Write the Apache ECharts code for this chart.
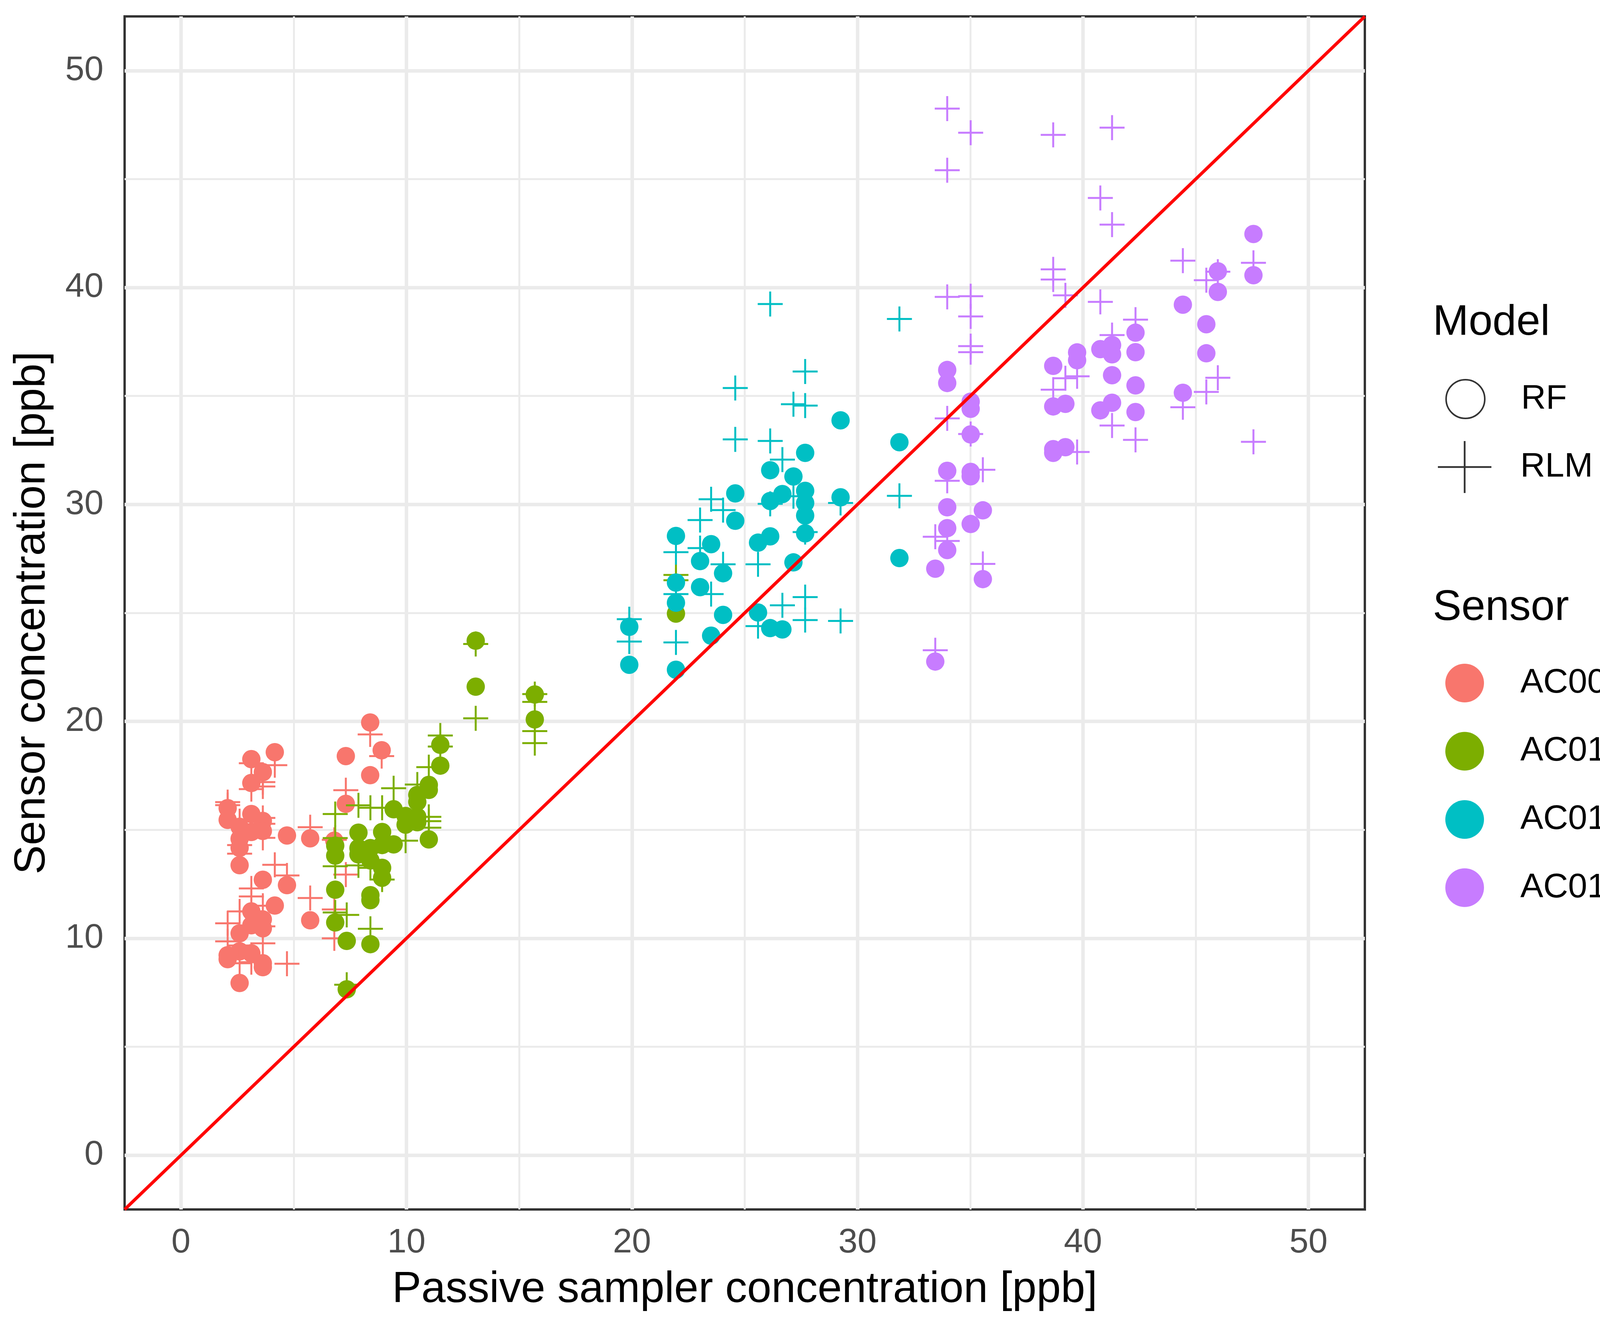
<!DOCTYPE html>
<html>
<head>
<meta charset="utf-8">
<script src="https://cdn.jsdelivr.net/npm/echarts@6/dist/echarts.min.js"></script>
<style>
html,body{margin:0;padding:0;background:#ffffff;}
#chart{width:4205px;height:3402px;}
</style>
</head>
<body>
<div id="chart"></div>
<script>
// ---------- data ----------
const sensors = ['AC009', 'AC010', 'AC011', 'AC012'];
const models = ['RF', 'RLM'];
const xTicks = [0, 10, 20, 30, 40, 50];
const yTicks = [0, 10, 20, 30, 40, 50];
const minorTicks = [5, 15, 25, 35, 45];
const axisMin = -2.5;
const axisMax = 52.5;

const ac009_RF = [[8.39,19.95],[8.9,18.67],[7.31,18.4],[8.39,17.52],[7.31,16.2],[4.16,18.58],[3.12,18.26],[3.63,17.66],[3.12,17.16],[2.07,16.0],[2.07,15.46],[3.12,15.73],[3.63,15.41],[2.6,15.14],[3.12,14.9],[3.63,14.95],[2.6,14.59],[2.6,14.17],[2.6,13.37],[4.7,14.74],[5.73,14.61],[6.8,14.5],[3.63,12.7],[4.7,12.45],[4.16,11.51],[3.12,11.24],[3.63,10.87],[3.12,10.6],[2.6,10.23],[3.63,10.46],[2.07,9.22],[2.6,9.4],[3.12,9.31],[3.63,8.85],[3.63,8.67],[2.07,9.04],[2.6,7.94],[5.73,10.83]];
const ac009_RLM = [[8.39,19.4],[8.9,18.4],[7.31,16.83],[5.73,15.12],[4.16,17.98],[3.12,18.07],[3.63,17.2],[3.63,17.0],[3.12,16.88],[2.07,16.28],[2.07,16.14],[3.63,15.55],[3.63,15.28],[3.63,14.63],[2.6,14.3],[2.6,13.9],[2.6,15.4],[4.16,13.39],[4.7,12.9],[6.8,14.54],[7.31,12.94],[6.8,11.33],[6.8,10.0],[5.73,11.86],[4.7,8.83],[3.12,12.3],[3.12,11.93],[3.63,11.5],[2.6,11.24],[3.12,11.24],[2.07,10.69],[3.63,10.55],[2.07,9.86],[2.6,9.67],[3.63,9.77],[3.12,8.9],[2.6,8.85]];
const ac010_RF = [[13.07,23.72],[13.07,21.6],[15.69,21.24],[15.69,20.09],[11.5,18.92],[11.5,17.96],[10.99,17.07],[10.99,16.84],[10.48,16.61],[10.48,16.29],[9.43,15.95],[9.96,15.64],[10.48,15.35],[9.96,15.24],[10.48,15.6],[10.99,14.56],[7.87,14.87],[8.92,14.9],[8.92,14.3],[9.43,14.33],[6.84,14.27],[6.84,13.81],[7.87,14.16],[7.87,13.87],[8.4,14.16],[8.4,13.59],[8.92,13.25],[8.92,12.79],[6.84,12.24],[8.4,11.99],[8.4,11.76],[6.84,10.73],[7.35,9.88],[8.4,9.73],[7.35,7.65],[21.95,24.97]];
const ac010_RLM = [[13.07,23.57],[13.07,20.14],[15.69,21.26],[15.69,20.9],[15.69,19.55],[15.69,19.0],[11.5,19.35],[11.5,18.84],[10.99,17.89],[10.48,17.09],[9.43,16.92],[7.87,16.13],[8.4,16.02],[8.92,16.02],[6.84,15.73],[10.99,15.6],[10.99,15.4],[10.99,15.1],[9.96,14.5],[6.84,14.62],[7.87,13.36],[8.4,13.25],[8.92,12.71],[6.84,13.32],[6.84,11.19],[7.35,11.08],[8.4,10.44],[7.35,7.86],[21.95,26.75],[21.95,26.51]];
const ac011_RF = [[29.25,33.88],[31.86,32.87],[27.68,32.38],[26.13,31.58],[27.16,31.29],[24.58,30.51],[26.67,30.48],[27.68,30.63],[26.13,30.16],[27.68,30.07],[29.25,30.33],[27.68,29.49],[24.58,29.25],[27.68,28.67],[21.95,28.55],[23.51,28.17],[26.13,28.53],[25.59,28.24],[23.02,27.39],[31.86,27.53],[27.16,27.33],[24.04,26.83],[21.95,26.4],[23.02,26.19],[21.95,25.47],[24.04,24.91],[25.59,25.02],[26.13,24.3],[26.67,24.24],[23.51,23.95],[19.88,24.36],[19.88,22.61],[21.95,22.38]];
const ac011_RLM = [[26.13,39.24],[31.86,38.55],[24.58,35.37],[27.68,36.13],[27.16,34.62],[27.68,34.56],[24.58,33.0],[26.13,32.93],[26.67,32.07],[23.51,30.24],[24.04,29.74],[23.02,29.28],[26.13,30.03],[27.16,30.38],[29.25,30.07],[31.86,30.4],[27.68,28.73],[21.95,27.8],[23.02,27.99],[24.04,27.24],[25.59,27.24],[23.51,25.87],[21.95,25.87],[26.67,25.35],[27.68,25.73],[27.68,24.67],[29.25,24.63],[25.59,24.39],[19.88,24.71],[19.88,23.68],[21.95,23.64]];
const ac012_RF = [[47.56,42.47],[47.56,40.57],[45.98,40.75],[45.98,39.8],[44.43,39.21],[45.47,38.31],[45.47,36.97],[42.33,37.92],[42.33,37.02],[41.29,37.35],[40.77,37.16],[41.29,36.92],[39.74,37.01],[39.74,36.65],[38.68,36.39],[41.29,35.96],[42.33,35.49],[44.43,35.15],[38.68,34.52],[39.22,34.64],[41.29,34.69],[40.77,34.34],[42.33,34.26],[33.98,36.2],[33.98,35.6],[35.02,34.74],[35.02,34.41],[35.02,33.23],[38.68,32.55],[38.68,32.38],[39.22,32.64],[33.98,31.55],[35.02,31.5],[35.02,31.3],[33.98,29.87],[35.56,29.73],[33.98,28.91],[35.02,29.1],[33.98,27.9],[33.45,27.04],[35.56,26.56],[33.45,22.76]];
const ac012_RLM = [[33.98,48.25],[35.02,47.14],[38.68,47.04],[41.29,47.37],[33.98,45.41],[40.77,44.13],[41.29,42.9],[44.43,41.24],[47.56,41.14],[38.68,40.84],[38.68,40.37],[45.47,40.34],[45.98,40.73],[33.98,39.57],[35.02,39.6],[39.22,39.64],[40.77,39.34],[35.02,38.67],[42.33,38.52],[41.29,37.81],[35.02,37.3],[35.02,37.02],[39.74,35.91],[39.22,35.82],[38.68,35.29],[45.98,35.84],[45.47,35.19],[44.43,34.48],[33.98,33.97],[41.29,33.64],[35.02,33.25],[42.33,32.98],[47.56,32.89],[39.74,32.42],[35.56,31.6],[33.98,31.09],[33.45,28.51],[33.98,28.32],[35.56,27.26],[33.45,23.28]];

// ---------- styling ----------
const FONT = "'Liberation Sans', Arial, Helvetica, sans-serif";
const colors = { AC009: '#F8766D', AC010: '#7CAE00', AC011: '#00BFC4', AC012: '#C77CFF' };
const dataBySensor = {
  AC009: { RF: ac009_RF, RLM: ac009_RLM },
  AC010: { RF: ac010_RF, RLM: ac010_RLM },
  AC011: { RF: ac011_RF, RLM: ac011_RLM },
  AC012: { RF: ac012_RF, RLM: ac012_RLM }
};

function plusPath(w, h, t) {
  const cx = w / 2, cy = h / 2, a = t / 2;
  return 'path://M' + (cx - a) + ',0 L' + (cx + a) + ',0 L' + (cx + a) + ',' + (cy - a) +
    ' L' + w + ',' + (cy - a) + ' L' + w + ',' + (cy + a) + ' L' + (cx + a) + ',' + (cy + a) +
    ' L' + (cx + a) + ',' + h + ' L' + (cx - a) + ',' + h + ' L' + (cx - a) + ',' + (cy + a) +
    ' L0,' + (cy + a) + ' L0,' + (cy - a) + ' L' + (cx - a) + ',' + (cy - a) + ' Z';
}
const dataPlus = plusPath(64, 64, 5);
const legendPlus = plusPath(137, 133, 4.5);

// ---------- series ----------
const series = [];

// grid lines (through the axes)
const gridLines = [];
xTicks.forEach(v => gridLines.push({ xAxis: v, lineStyle: { color: '#EBEBEB', width: 9, type: 'solid' } }));
minorTicks.forEach(v => gridLines.push({ xAxis: v, lineStyle: { color: '#EBEBEB', width: 5, type: 'solid' } }));
yTicks.forEach(v => gridLines.push({ yAxis: v, lineStyle: { color: '#EBEBEB', width: 9, type: 'solid' } }));
minorTicks.forEach(v => gridLines.push({ yAxis: v, lineStyle: { color: '#EBEBEB', width: 5, type: 'solid' } }));
series.push({
  type: 'line', name: '_grid', data: [], z: 1, silent: true,
  markLine: {
    z: 1, silent: true, animation: false, symbol: ['none', 'none'],
    label: { show: false }, emphasis: { disabled: true },
    data: gridLines
  }
});

sensors.forEach(s => {
  series.push({
    type: 'scatter', name: s, data: dataBySensor[s].RF, symbol: 'circle', symbolSize: 47,
    itemStyle: { color: colors[s], opacity: 1 }, z: 3, silent: true, emphasis: { disabled: true }
  });
  series.push({
    type: 'scatter', name: s, data: dataBySensor[s].RLM, symbol: dataPlus, symbolSize: 64,
    itemStyle: { color: colors[s], opacity: 1 }, z: 3, silent: true, emphasis: { disabled: true }
  });
});

// empty series carrying the "Model" legend entries
series.push({ type: 'scatter', name: 'RF', data: [], itemStyle: { color: '#000' } });
series.push({ type: 'scatter', name: 'RLM', data: [], itemStyle: { color: '#000' } });

// 1:1 reference line
series.push({
  type: 'line', name: '_identity', data: [[axisMin, axisMin], [axisMax, axisMax]],
  symbol: 'none', showSymbol: false, silent: true, z: 10,
  lineStyle: { color: '#FF0000', width: 8 }, emphasis: { disabled: true }
});

const legendText = { fontSize: 88, color: '#000000', fontFamily: FONT };

const option = {
  animation: false,
  backgroundColor: '#ffffff',
  grid: {
    left: 319, top: 42, width: 3175, height: 3054,
    show: true, borderColor: '#333333', borderWidth: 6, backgroundColor: '#ffffff'
  },
  xAxis: {
    type: 'value', min: axisMin, max: axisMax,
    axisLine: { show: false },
    splitLine: { show: false },
    axisTick: { show: true, customValues: xTicks, length: 29, lineStyle: { color: '#333333', width: 9 } },
    axisLabel: { customValues: xTicks, margin: 42, fontSize: 88, color: '#4D4D4D', fontFamily: FONT },
    name: 'Passive sampler concentration [ppb]', nameLocation: 'middle', nameGap: 150,
    nameTextStyle: { fontSize: 112, color: '#000000', fontFamily: FONT }
  },
  yAxis: {
    type: 'value', min: axisMin, max: axisMax,
    axisLine: { show: false },
    splitLine: { show: false },
    axisTick: { show: true, customValues: yTicks, length: 29, lineStyle: { color: '#333333', width: 9 } },
    axisLabel: { customValues: yTicks, margin: 54, fontSize: 88, color: '#4D4D4D', fontFamily: FONT },
    name: 'Sensor concentration [ppb]', nameLocation: 'middle', nameGap: 180,
    nameTextStyle: { fontSize: 112, color: '#000000', fontFamily: FONT }
  },
  title: [
    { text: 'Model', left: 3668, top: 772, padding: 0,
      textStyle: { fontSize: 110, fontWeight: 'normal', color: '#000000', fontFamily: FONT } },
    { text: 'Sensor', left: 3668, top: 1502, padding: 0,
      textStyle: { fontSize: 110, fontWeight: 'normal', color: '#000000', fontFamily: FONT } }
  ],
  legend: [
    {
      orient: 'vertical', left: 3700, top: 970, padding: 0, itemWidth: 99, itemHeight: 99,
      selectedMode: false,
      data: [{ name: models[0], icon: 'circle', itemStyle: { color: '#ffffff', borderColor: '#000000', borderWidth: 4 } }],
      textStyle: Object.assign({ padding: [0, 0, 0, 88] }, legendText)
    },
    {
      orient: 'vertical', left: 3681, top: 1129, padding: 0, itemWidth: 137, itemHeight: 133,
      selectedMode: false,
      data: [{ name: models[1], icon: legendPlus, itemStyle: { color: '#000000', borderWidth: 0 } }],
      textStyle: Object.assign({ padding: [0, 0, 0, 69] }, legendText)
    },
    {
      orient: 'vertical', left: 3700, top: 1699, padding: 0, itemWidth: 99, itemHeight: 99, itemGap: 75.6,
      selectedMode: false,
      data: sensors.map(s => ({ name: s, icon: 'circle', itemStyle: { color: colors[s], borderWidth: 0 } })),
      textStyle: Object.assign({ padding: [0, 0, 0, 88] }, legendText)
    }
  ],
  series: series
};

const chart = echarts.init(document.getElementById('chart'), null, { renderer: 'canvas', width: 4205, height: 3402 });
chart.setOption(option);
</script>
</body>
</html>
